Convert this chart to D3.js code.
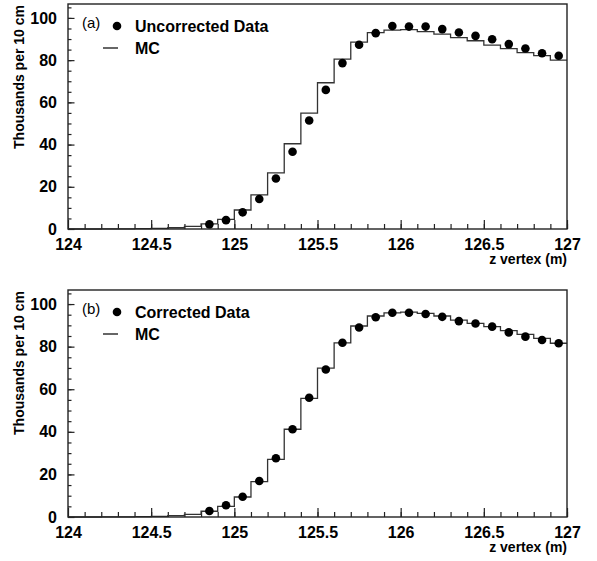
<!DOCTYPE html>
<html>
<head>
<meta charset="utf-8">
<script src="https://cdn.jsdelivr.net/npm/d3@7"></script>
<style>
  body { margin: 0; background: #fff; }
  text { font-family: "Liberation Sans", Arial, sans-serif; }
</style>
</head>
<body>
<svg id="chart" width="597" height="561"></svg>
<script>
// bin low edges (m), 0.1 m wide
const binLow = [124.0, 124.1, 124.2, 124.3, 124.4, 124.5, 124.6, 124.7, 124.8, 124.9,
                125.0, 125.1, 125.2, 125.3, 125.4, 125.5, 125.6, 125.7, 125.8, 125.9,
                126.0, 126.1, 126.2, 126.3, 126.4, 126.5, 126.6, 126.7, 126.8, 126.9]

// data points are shown at bin centres from 124.85 on
const dataZ = [124.85, 124.95, 125.05, 125.15, 125.25, 125.35, 125.45, 125.55, 125.65, 125.75, 125.85,
               125.95, 126.05, 126.15, 126.25, 126.35, 126.45, 126.55, 126.65, 126.75, 126.85, 126.95]

const mcTop = [0.0, 0.0, 0.1, 0.1, 0.2, 0.3, 0.6, 1.2, 2.4, 4.6,
               9.0, 16.2, 26.6, 40.4, 54.9, 69.3, 80.5, 88.5, 93.0, 94.2,
               94.5, 93.5, 92.3, 90.7, 89.2, 87.1, 85.5, 83.6, 82.1, 80.0]
const dataTop = [2.2, 4.2, 7.9, 14.2, 23.9, 36.6, 51.4, 65.9, 78.6, 87.3, 92.8,
                 96.2, 95.9, 95.9, 94.7, 93.1, 91.5, 89.9, 87.6, 85.5, 83.3, 82.1]

const mcBottom = [0.0, 0.0, 0.1, 0.1, 0.2, 0.3, 0.6, 1.2, 2.7, 5.0,
                  9.4, 16.6, 27.1, 41.2, 55.7, 69.9, 81.8, 89.7, 94.4, 95.9,
                  96.2, 95.6, 94.4, 92.5, 90.9, 89.4, 87.5, 85.8, 83.9, 81.6]
const dataBottom = [2.8, 5.5, 9.5, 16.9, 27.6, 41.2, 56.0, 69.3, 81.8, 89.0, 93.8,
                    95.9, 95.9, 95.3, 94.0, 92.0, 90.9, 89.4, 86.7, 84.7, 83.1, 81.6]

const xMajor = [124, 124.5, 125, 125.5, 126, 126.5, 127]
const yMajor = [0, 20, 40, 60, 80, 100]

const svg = d3.select("#chart")
const left = 68, right = 567

const x = d3.scaleLinear().domain([124, 127]).range([left, right])

function drawPanel(top, bottom, label, dataName, mc, data) {
    const y = d3.scaleLinear().domain([0, 106.6]).range([bottom, top])
    const g = svg.append("g")

    // minor ticks
    g.append("g")
        .attr("transform", `translate(0,${bottom})`)
        .call(d3.axisBottom(x).tickValues(d3.range(124.1, 127, 0.1)).tickSize(-5).tickFormat(""))
    g.append("g")
        .attr("transform", `translate(${left},0)`)
        .call(d3.axisLeft(y).tickValues(d3.range(5, 106, 5)).tickSize(-3.5).tickFormat(""))

    // major ticks + labels
    g.append("g")
        .attr("transform", `translate(0,${bottom})`)
        .call(d3.axisBottom(x).tickValues(xMajor).tickSize(-9).tickPadding(10).tickFormat(d3.format("")))
    g.append("g")
        .attr("transform", `translate(${left},0)`)
        .call(d3.axisLeft(y).tickValues(yMajor).tickSize(-6.5).tickPadding(11))

    g.selectAll(".tick line").attr("stroke", "#222").attr("stroke-width", 1.2)
    g.selectAll(".domain").remove()
    g.selectAll(".tick text")
        .attr("font-family", "Liberation Sans, Arial, sans-serif")
        .attr("font-weight", "bold")
        .attr("font-size", 16)
        .attr("fill", "#000")

    // MC histogram
    const pts = binLow.map((b, i) => [b, mc[i]])
    pts.push([127, mc[mc.length - 1]])
    g.append("path")
        .datum(pts)
        .attr("fill", "none")
        .attr("stroke", "#333")
        .attr("stroke-width", 1.3)
        .attr("d", d3.line().x(d => x(d[0])).y(d => y(d[1])).curve(d3.curveStepAfter))

    // data points
    g.selectAll("circle.pt")
        .data(dataZ.map((z, i) => [z, data[i]]))
        .join("circle")
        .attr("class", "pt")
        .attr("cx", d => x(d[0]))
        .attr("cy", d => y(d[1]))
        .attr("r", 4.3)
        .attr("fill", "#000")

    // frame
    g.append("rect")
        .attr("x", left).attr("y", top)
        .attr("width", right - left).attr("height", bottom - top)
        .attr("fill", "none")
        .attr("stroke", "#222")
        .attr("stroke-width", 1.4)

    // legend
    g.append("text")
        .text(label)
        .attr("x", 82).attr("y", top + 24)
        .attr("font-size", 15)
        .attr("fill", "#000")
    g.append("circle")
        .attr("cx", 117).attr("cy", top + 22)
        .attr("r", 4.3)
        .attr("fill", "#000")
    g.append("text")
        .text(dataName)
        .attr("x", 135).attr("y", top + 28)
        .attr("font-size", 16)
        .attr("font-weight", "bold")
    g.append("line")
        .attr("x1", 103).attr("x2", 118)
        .attr("y1", top + 44).attr("y2", top + 44)
        .attr("stroke", "#000")
        .attr("stroke-width", 1.2)
    g.append("text")
        .text("MC")
        .attr("x", 135).attr("y", top + 50)
        .attr("font-size", 16)
        .attr("font-weight", "bold")

    // axis titles
    g.append("text")
        .text("z vertex (m)")
        .attr("x", right).attr("y", bottom + 35)
        .attr("text-anchor", "end")
        .attr("font-size", 14)
        .attr("font-weight", "bold")
    g.append("text")
        .text("Thousands per 10 cm")
        .attr("transform", `translate(24,${top + 1}) rotate(-90)`)
        .attr("text-anchor", "end")
        .attr("font-size", 14)
        .attr("font-weight", "bold")
}

drawPanel(4, 229, "(a)", "Uncorrected Data", mcTop, dataTop)
drawPanel(290, 517, "(b)", "Corrected Data", mcBottom, dataBottom)
</script>
</body>
</html>
